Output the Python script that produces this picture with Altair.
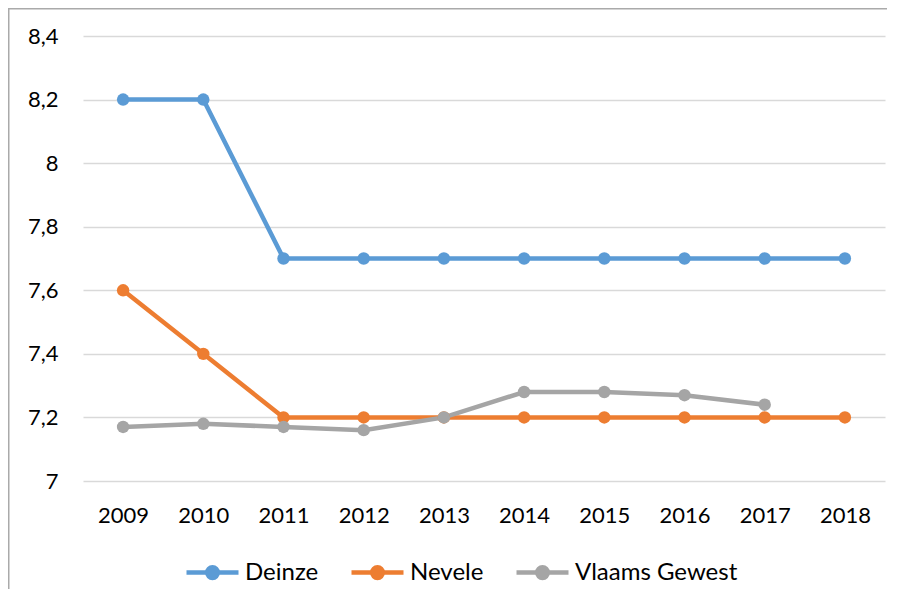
import altair as alt
import pandas as pd

years = ["2009", "2010", "2011", "2012", "2013", "2014", "2015", "2016", "2017", "2018"]
deinze = [8.2, 8.2, 7.7, 7.7, 7.7, 7.7, 7.7, 7.7, 7.7, 7.7]
nevele = [7.6, 7.4, 7.2, 7.2, 7.2, 7.2, 7.2, 7.2, 7.2, 7.2]
vlaams = [7.17, 7.18, 7.17, 7.16, 7.2, 7.28, 7.28, 7.27, 7.24, None]
series = ["Deinze", "Nevele", "Vlaams Gewest"]
colors = ["#5B9BD5", "#ED7D31", "#A5A5A5"]
y_ticks = [7.0, 7.2, 7.4, 7.6, 7.8, 8.0, 8.2, 8.4]

rows = []
for name, vals in zip(series, [deinze, nevele, vlaams]):
    for yr, v in zip(years, vals):
        if v is not None:
            rows.append({"year": yr, "value": v, "series": name})
df = pd.DataFrame(rows)

FONT = "Lato"
legend_symbol = (
    "M-2.6,0L2.6,0 "
    "M0.53,0A0.53,0.53 0 1,1 -0.53,0A0.53,0.53 0 1,1 0.53,0Z "
    "M0.2,0A0.2,0.2 0 1,1 -0.2,0A0.2,0.2 0 1,1 0.2,0Z"
)

lines = alt.Chart(df).mark_line(
    strokeWidth=4.5,
    point=alt.OverlayMarkDef(filled=True, size=155, opacity=1),
).encode(
    x=alt.X(
        "year:O",
        sort=years,
        scale=alt.Scale(type="point", padding=0.5),
        axis=alt.Axis(
            title=None, labelAngle=0, ticks=False, domain=False, grid=False,
            labelFont=FONT, labelFontSize=22, labelColor="#000000", labelPadding=24,
        ),
    ),
    y=alt.Y(
        "value:Q",
        scale=alt.Scale(domain=[7, 8.4], nice=False, zero=False),
        axis=alt.Axis(
            title=None, values=y_ticks, ticks=False, domain=False,
            labelExpr="replace(format(datum.value, '~g'), '.', ',')",
            gridColor="#D9D9D9", gridWidth=1.3,
            labelFont=FONT, labelFontSize=22, labelColor="#000000", labelPadding=25,
        ),
    ),
    color=alt.Color(
        "series:N",
        sort=series,
        scale=alt.Scale(domain=series, range=colors),
        legend=alt.Legend(
            title=None, orient="none", direction="horizontal",
            legendX=117, legendY=524,
            symbolType=legend_symbol, symbolSize=400, symbolStrokeWidth=4.5,
            labelFont=FONT, labelFontSize=24, labelColor="#000000",
            labelOffset=20, columnPadding=23, labelLimit=400,
        ),
    ),
)

edge = alt.Chart(pd.DataFrame({"a": [0]}))
left_edge = edge.mark_rect(fill="#AAAAAA", strokeWidth=0).encode(
    x=alt.value(-75), x2=alt.value(-73.5), y=alt.value(-28), y2=alt.value(553)
)
top_edge = edge.mark_rule(color="#AAAAAA", strokeWidth=1.5).encode(
    x=alt.value(-75), x2=alt.value(804), y=alt.value(-27.25), y2=alt.value(-27.25)
)

chart = alt.layer(lines, left_edge, top_edge).properties(
    width=802,
    height=445,
    padding={"left": 75, "top": 28, "right": 2, "bottom": 108},
    autosize=alt.AutoSizeParams(type="none"),
    background="white",
).configure_view(stroke=None)

chart.save("out.html", embed_options={"renderer": "svg", "actions": False})
